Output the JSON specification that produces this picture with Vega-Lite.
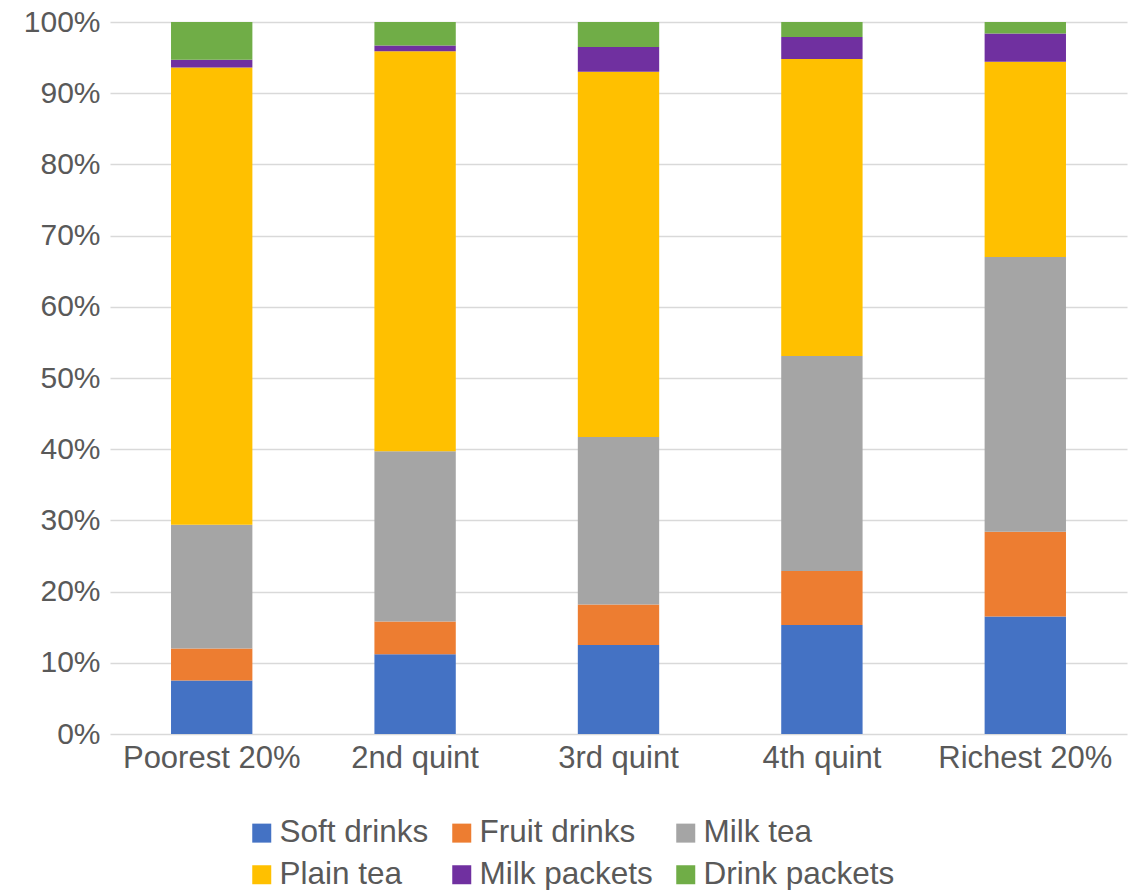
{
  "$schema": "https://vega.github.io/schema/vega-lite/v6.json",
  "width": 1017,
  "height": 712,
  "autosize": {"type": "none"},
  "padding": {"left": 110, "top": 22, "right": 14, "bottom": 156},
  "background": "white",
  "config": {
    "view": {"stroke": null},
    "font": "Liberation Sans",
    "axis": {"labelFont": "Liberation Sans", "labelColor": "#595959", "titleFontSize": 0},
    "legend": {"labelFont": "Liberation Sans"}
  },
  "data": {
    "values": [
      {"quint": "Poorest 20%", "drink": "Soft drinks", "value": 7.5},
      {"quint": "Poorest 20%", "drink": "Fruit drinks", "value": 4.5},
      {"quint": "Poorest 20%", "drink": "Milk tea", "value": 17.4},
      {"quint": "Poorest 20%", "drink": "Plain tea", "value": 64.2},
      {"quint": "Poorest 20%", "drink": "Milk packets", "value": 1.1},
      {"quint": "Poorest 20%", "drink": "Drink packets", "value": 5.3},
      {"quint": "2nd quint", "drink": "Soft drinks", "value": 11.2},
      {"quint": "2nd quint", "drink": "Fruit drinks", "value": 4.6},
      {"quint": "2nd quint", "drink": "Milk tea", "value": 23.9},
      {"quint": "2nd quint", "drink": "Plain tea", "value": 56.2},
      {"quint": "2nd quint", "drink": "Milk packets", "value": 0.8},
      {"quint": "2nd quint", "drink": "Drink packets", "value": 3.3},
      {"quint": "3rd quint", "drink": "Soft drinks", "value": 12.5},
      {"quint": "3rd quint", "drink": "Fruit drinks", "value": 5.7},
      {"quint": "3rd quint", "drink": "Milk tea", "value": 23.5},
      {"quint": "3rd quint", "drink": "Plain tea", "value": 51.3},
      {"quint": "3rd quint", "drink": "Milk packets", "value": 3.5},
      {"quint": "3rd quint", "drink": "Drink packets", "value": 3.5},
      {"quint": "4th quint", "drink": "Soft drinks", "value": 15.3},
      {"quint": "4th quint", "drink": "Fruit drinks", "value": 7.6},
      {"quint": "4th quint", "drink": "Milk tea", "value": 30.2},
      {"quint": "4th quint", "drink": "Plain tea", "value": 41.7},
      {"quint": "4th quint", "drink": "Milk packets", "value": 3.1},
      {"quint": "4th quint", "drink": "Drink packets", "value": 2.1},
      {"quint": "Richest 20%", "drink": "Soft drinks", "value": 16.5},
      {"quint": "Richest 20%", "drink": "Fruit drinks", "value": 11.9},
      {"quint": "Richest 20%", "drink": "Milk tea", "value": 38.6},
      {"quint": "Richest 20%", "drink": "Plain tea", "value": 27.4},
      {"quint": "Richest 20%", "drink": "Milk packets", "value": 4.0},
      {"quint": "Richest 20%", "drink": "Drink packets", "value": 1.6}
    ]
  },
  "transform": [
    {"calculate": "indexof(['Soft drinks','Fruit drinks','Milk tea','Plain tea','Milk packets','Drink packets'], datum.drink)", "as": "stackOrder"}
  ],
  "mark": {"type": "bar"},
  "encoding": {
    "x": {
      "field": "quint",
      "type": "nominal",
      "sort": ["Poorest 20%", "2nd quint", "3rd quint", "4th quint", "Richest 20%"],
      "scale": {"paddingInner": 0.6, "paddingOuter": 0.3},
      "axis": {"title": null, "labelAngle": 0, "ticks": false, "domain": false, "labelPadding": 9, "labelFontSize": 31}
    },
    "y": {
      "field": "value",
      "type": "quantitative",
      "stack": "normalize",
      "scale": {"domain": [0, 1]},
      "axis": {
        "title": null,
        "format": ".0%",
        "values": [0, 0.1, 0.2, 0.3, 0.4, 0.5, 0.6, 0.7, 0.8, 0.9, 1],
        "ticks": false,
        "domain": false,
        "labelPadding": 10,
        "labelFontSize": 30,
        "gridColor": "#d9d9d9",
        "gridWidth": 1.5
      }
    },
    "color": {
      "field": "drink",
      "type": "nominal",
      "sort": ["Soft drinks", "Fruit drinks", "Milk tea", "Plain tea", "Milk packets", "Drink packets"],
      "scale": {
        "domain": ["Soft drinks", "Fruit drinks", "Milk tea", "Plain tea", "Milk packets", "Drink packets"],
        "range": ["#4472C4", "#ED7D31", "#A5A5A5", "#FFC000", "#7030A0", "#70AD47"]
      },
      "legend": {
        "title": null,
        "orient": "none",
        "legendX": 136,
        "legendY": 795,
        "padding": 0,
        "direction": "horizontal",
        "columns": 3,
        "symbolType": "square",
        "symbolSize": 361,
        "symbolStrokeWidth": 0,
        "labelFontSize": 31.5,
        "labelColor": "#595959",
        "labelOffset": 2,
        "columnPadding": 17,
        "rowPadding": 9,
        "labelLimit": 400
      }
    },
    "order": {"field": "stackOrder", "type": "quantitative", "sort": "ascending"}
  }
}
